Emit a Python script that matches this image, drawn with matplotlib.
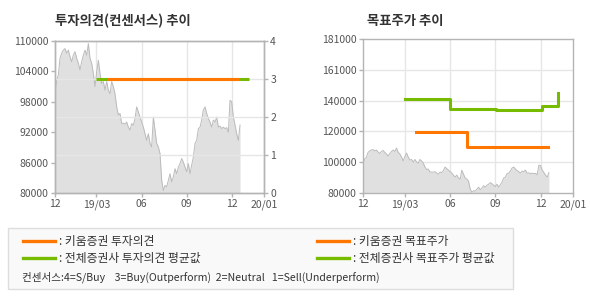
import numpy as np
import matplotlib
matplotlib.use("Agg")
import matplotlib.pyplot as plt
from matplotlib.lines import Line2D
from matplotlib.patches import Rectangle

plt.rcParams['font.family'] = ['Noto Sans CJK KR', 'DejaVu Sans']

# x axis is in months (3 = 19/03, 6 = 06, 9 = 09, 12 = 12)
x_lo, x_hi = 0.26, 14.12
xtick_pos = [x_lo, 3, 6, 9, 12, x_hi]
xtick_lbl = ['12', '19/03', '06', '09', '12', '20/01']

# daily close (sampled), 2018-12 .. 2019-12
price = [99300, 102300, 103300, 106600, 107600, 108200, 108500, 107600, 108200, 106900,
         105900, 107200, 107900, 106600, 105600, 104300, 105900, 107200, 108200, 107200,
         109500, 106600, 105600, 103600, 101000, 103900, 106200, 103600, 101600, 102000,
         100300, 102000, 100300, 99600, 102000, 101000, 99600, 97000, 95400, 95700,
         93700, 93800, 93600, 94000, 93000, 92400, 93700, 93400, 94700, 97000,
         96000, 95000, 94000, 93000, 91700, 90400, 91700, 89800, 89100, 95000,
         92400, 89800, 89100, 87800, 82500, 80500, 81500, 81200, 82500, 83800,
         82200, 83200, 84800, 83800, 85100, 85800, 86800, 86100, 85100, 84200,
         85800, 83800, 85500, 87100, 89800, 90400, 92700, 93000, 94400, 96400,
         97000, 95700, 94700, 94000, 93000, 94400, 94000, 95000, 93000, 93200,
         92700, 93000, 92700, 92900, 92000, 98300, 98000, 95000, 93400, 91700,
         90400, 93400]
price_x = np.linspace(0.26, 12.53, len(price))

# investment opinion (3 = Buy)
kiwoom_op_x = [3.73, 12.45]
kiwoom_op = [3, 3]
all_op_x = [3.0, 13.1]
all_op = [3, 3]

# target price
kiwoom_tp_x = [3.73, 7.1, 12.45]
kiwoom_tp = [120000, 110000, 110000]
all_tp_x = [3.0, 6.03, 9.05, 12.05, 13.1]
all_tp = [141500, 135000, 134500, 136800, 145500]

ORANGE = '#ff7700'
GREEN = '#77bb00'
FILL = '#e0e0e0'
EDGE = '#bbbbbb'
GRID = '#e6e6e6'
SPINE = '#b4b4b4'
TXT = '#555555'

fig = plt.figure(figsize=(5.9, 3.0), dpi=100)


def style_axes(ax):
    for s in ax.spines.values():
        s.set_color(SPINE)
        s.set_linewidth(1.0)
    ax.tick_params(colors=SPINE, labelcolor=TXT, labelsize=7.5, length=3, width=1, pad=1.5)
    ax.set_xlim(x_lo, x_hi)
    ax.set_xticks(xtick_pos)
    ax.set_xticklabels(xtick_lbl)


def draw_price(ax):
    ax.fill_between(price_x, 80000, price, color=FILL, lw=0, zorder=1)
    ax.plot(price_x, price, color=EDGE, lw=0.7, zorder=2)


# ---- left: opinion
ax1 = fig.add_axes([55 / 590, 1 - 193 / 300, 209 / 590, 152 / 300])
style_axes(ax1)
ax1.set_ylim(80000, 110000)
ax1.set_yticks([80000, 86000, 92000, 98000, 104000, 110000])
draw_price(ax1)
for xv in [3, 6, 9, 12]:
    ax1.axvline(xv, color=GRID, lw=1, zorder=0.5)

ax1b = ax1.twinx()
style_axes(ax1b)
ax1b.set_ylim(0, 4)
ax1b.set_yticks([0, 1, 2, 3, 4])
for yv in [1, 2, 3]:
    ax1b.axhline(yv, color=GRID, lw=1, zorder=0.5)
ax1b.plot(all_op_x, all_op, color=GREEN, lw=2.2, solid_capstyle='butt', zorder=3)
ax1b.plot(kiwoom_op_x, kiwoom_op, color=ORANGE, lw=2.2, solid_capstyle='butt', zorder=4)
ax1b.patch.set_visible(False)
ax1.set_zorder(0)
ax1b.set_zorder(1)

fig.text(55 / 590, 1 - 21 / 300, '투자의견(컨센서스) 추이', fontsize=9.6, fontweight='bold',
         color='#333333', va='center', ha='left')

# ---- right: target price
ax2 = fig.add_axes([363 / 590, 1 - 193 / 300, 210 / 590, 154 / 300])
style_axes(ax2)
ax2.set_ylim(80000, 181000)
tp_ticks = np.linspace(80000, 181000, 6)
ax2.set_yticks(tp_ticks)
ax2.set_yticklabels(['80000', '100000', '120000', '140000', '161000', '181000'])
for yv in tp_ticks[1:-1]:
    ax2.axhline(yv, color=GRID, lw=1, zorder=0.5)
for xv in [3, 6, 9, 12]:
    ax2.axvline(xv, color=GRID, lw=1, zorder=0.5)
draw_price(ax2)
ax2.plot(all_tp_x, all_tp, color=GREEN, lw=2.2, drawstyle='steps-post', zorder=3)
ax2.plot(kiwoom_tp_x, kiwoom_tp, color=ORANGE, lw=2.2, drawstyle='steps-post', zorder=4)

fig.text(367 / 590, 1 - 21 / 300, '목표주가 추이', fontsize=9.6, fontweight='bold',
         color='#333333', va='center', ha='left')

# ---- legend box
fig.patches.append(Rectangle((8 / 590, 1 - 289 / 300), 505 / 590, 61 / 300,
                             transform=fig.transFigure, facecolor='#f9f9f9',
                             edgecolor='#dddddd', lw=1))
legend_items = [
    (23, 241, ORANGE, ': 키움증권 투자의견'),
    (23, 258, GREEN, ': 전체증권사 투자의견 평균값'),
    (317, 241, ORANGE, ': 키움증권 목표주가'),
    (317, 258, GREEN, ': 전체증권사 목표주가 평균값'),
]
for lx, ly, col, label in legend_items:
    fig.lines.append(Line2D([lx / 590, (lx + 32) / 590], [1 - ly / 300, 1 - ly / 300],
                            transform=fig.transFigure, color=col, lw=2.4))
    fig.text((lx + 36) / 590, 1 - ly / 300, label, fontsize=8.5, color='#333333',
             va='center', ha='left')
fig.text(22 / 590, 1 - 277 / 300,
         '컨센서스:4=S/Buy    3=Buy(Outperform)  2=Neutral   1=Sell(Underperform)',
         fontsize=7.6, color='#333333', va='center', ha='left')

fig.savefig('out.png', dpi=100)
